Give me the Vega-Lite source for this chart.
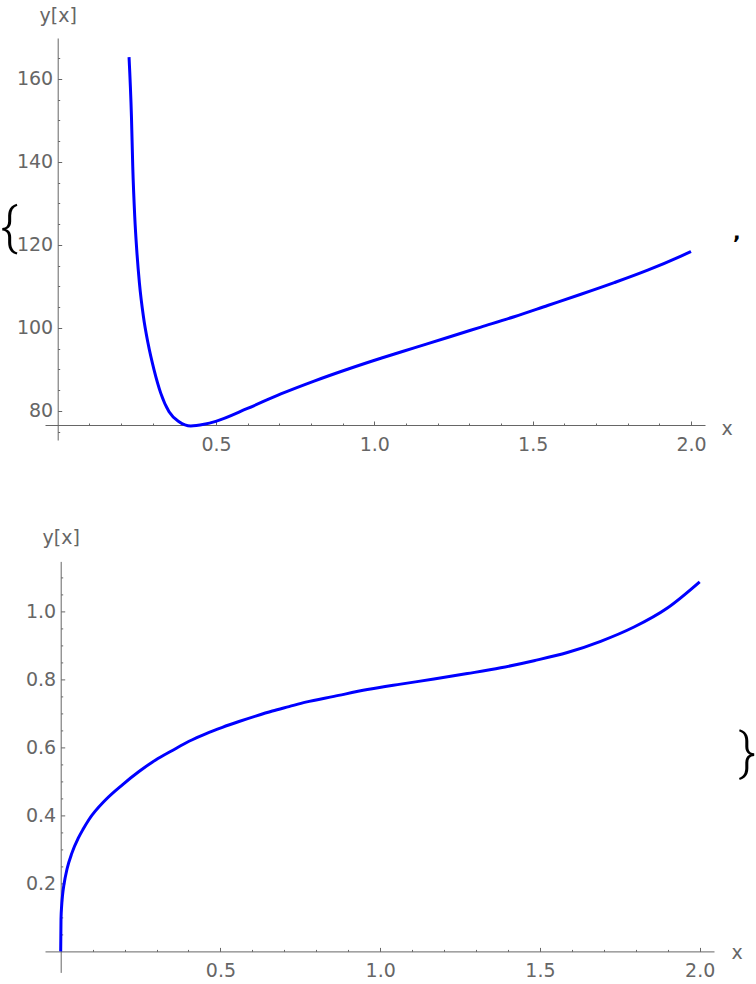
{
  "$schema": "https://vega.github.io/schema/vega-lite/v6.json",
  "padding": {"left": 0, "top": 6, "right": 0, "bottom": 5},
  "background": "white",
  "config": {"view": {"stroke": null}, "font": "DejaVu Sans"},
  "bounds": "flush",
  "spacing": 121.4,
  "vconcat": [
    {
      "width": 660,
      "height": 402,
      "data": {"values": [
        {"x": 0.2253, "y": 165.2}, {"x": 0.2329, "y": 150.9}, {"x": 0.2370, "y": 138.9}, {"x": 0.2433, "y": 126.8},
        {"x": 0.2496, "y": 118.8}, {"x": 0.2581, "y": 110.8}, {"x": 0.2708, "y": 102.7}, {"x": 0.2853, "y": 96.3},
        {"x": 0.3043, "y": 89.9}, {"x": 0.3254, "y": 84.3}, {"x": 0.3517, "y": 79.8}, {"x": 0.3833, "y": 77.4},
        {"x": 0.4202, "y": 76.4}, {"x": 0.4622, "y": 76.8}, {"x": 0.4992, "y": 77.5}, {"x": 0.5994, "y": 80.6},
        {"x": 0.7046, "y": 84.1}, {"x": 0.8098, "y": 87.2}, {"x": 0.9153, "y": 90.05}, {"x": 1.0205, "y": 92.7},
        {"x": 1.1258, "y": 95.2}, {"x": 1.2313, "y": 97.7}, {"x": 1.3365, "y": 100.2}, {"x": 1.4417, "y": 102.7},
        {"x": 1.5472, "y": 105.4}, {"x": 1.6524, "y": 108.1}, {"x": 1.7577, "y": 110.9}, {"x": 1.8632, "y": 113.9},
        {"x": 1.9684, "y": 117.3}, {"x": 2.0, "y": 118.4}
      ]},
      "layer": [
        {
          "mark": {"type": "line", "color": "#0000ff", "strokeWidth": 3, "interpolate": "monotone"},
          "encoding": {
            "x": {"field": "x", "type": "quantitative",
              "scale": {"domain": [-0.0401, 2.0442], "nice": false, "zero": false},
              "axis": {"orient": "bottom", "values": [0.5, 1, 1.5, 2], "format": ".1f", "offset": -15, "grid": false,
                "domainColor": "#666666", "tickColor": "#666666", "tickSize": -4, "labelColor": "#666666",
                "labelFontSize": 19, "labelPadding": 14, "labelFlush": false, "labelOverlap": false,
                "title": "x", "titleX": 676, "titleY": 3, "titleAlign": "left", "titleBaseline": "middle",
                "titleFontWeight": "normal", "titleFontSize": 19, "titleColor": "#666666"}},
            "y": {"field": "y", "type": "quantitative",
              "scale": {"domain": [73.01, 169.81], "nice": false, "zero": false},
              "axis": {"orient": "left", "values": [80, 100, 120, 140, 160], "offset": -12.7, "grid": false,
                "domainColor": "#666666", "tickColor": "#666666", "tickSize": -4, "labelColor": "#666666",
                "labelFontSize": 19, "labelPadding": 9, "labelFlush": false, "labelOverlap": false,
                "title": "y[x]", "titleAngle": 0, "titleX": 0, "titleY": -23, "titleAlign": "center",
                "titleBaseline": "middle", "titleFontWeight": "normal", "titleFontSize": 19, "titleColor": "#666666"}}
          }
        },
        {
          "mark": {"type": "line", "opacity": 0},
          "encoding": {
            "x": {"field": "x", "type": "quantitative",
              "axis": {"orient": "bottom", "values": [0.1, 0.2, 0.3, 0.4, 0.6, 0.7, 0.8, 0.9, 1.1, 1.2, 1.3, 1.4, 1.6, 1.7, 1.8, 1.9],
                "offset": -15, "grid": false, "domain": false, "labels": false, "tickSize": -2,
                "tickColor": "#666666", "title": null}},
            "y": {"field": "y", "type": "quantitative",
              "axis": {"orient": "left", "values": [75, 85, 90, 95, 105, 110, 115, 125, 130, 135, 145, 150, 155, 165],
                "offset": -12.7, "grid": false, "domain": false, "labels": false, "tickSize": -2,
                "tickColor": "#666666", "title": null}}
          }
        },
        {
          "data": {"values": [{"t": "{", "x": -0.1537, "y": 124.0}]},
          "mark": {"type": "text", "font": "Roboto", "fontWeight": 300, "fontSize": 52, "color": "black", "align": "center", "baseline": "middle"},
          "encoding": {
            "x": {"field": "x", "type": "quantitative", "axis": null},
            "y": {"field": "y", "type": "quantitative", "axis": null},
            "text": {"field": "t"}
          }
        },
        {
          "data": {"values": [{"t": ",", "x": 2.145, "y": 121.4}]},
          "mark": {"type": "text", "fontSize": 20, "fontWeight": "bold", "color": "black", "align": "center", "baseline": "alphabetic"},
          "encoding": {
            "x": {"field": "x", "type": "quantitative", "axis": null},
            "y": {"field": "y", "type": "quantitative", "axis": null},
            "text": {"field": "t"}
          }
        }
      ],
      "resolve": {"axis": {"x": "independent", "y": "independent"}}
    },
    {
      "width": 669,
      "height": 411,
      "data": {"values": [
        {"x": 0, "y": 0}, {"x": 0.001, "y": 0.095}, {"x": 0.003, "y": 0.134}, {"x": 0.006, "y": 0.167},
        {"x": 0.01, "y": 0.195}, {"x": 0.02, "y": 0.243}, {"x": 0.035, "y": 0.289}, {"x": 0.055, "y": 0.333},
        {"x": 0.07, "y": 0.359}, {"x": 0.0886, "y": 0.388}, {"x": 0.1408, "y": 0.446}, {"x": 0.1931, "y": 0.49},
        {"x": 0.2451, "y": 0.529},
        {"x": 0.2973, "y": 0.563}, {"x": 0.3496, "y": 0.591}, {"x": 0.4016, "y": 0.618}, {"x": 0.4538, "y": 0.64},
        {"x": 0.5061, "y": 0.659}, {"x": 0.5581, "y": 0.676}, {"x": 0.6103, "y": 0.692}, {"x": 0.6626, "y": 0.707},
        {"x": 0.7146, "y": 0.72}, {"x": 0.7668, "y": 0.733}, {"x": 0.8554, "y": 0.75}, {"x": 0.9599, "y": 0.77},
        {"x": 1.0642, "y": 0.786}, {"x": 1.1684, "y": 0.801}, {"x": 1.2729, "y": 0.817}, {"x": 1.3772, "y": 0.834},
        {"x": 1.4814, "y": 0.855}, {"x": 1.5859, "y": 0.879}, {"x": 1.6901, "y": 0.912}, {"x": 1.7944, "y": 0.954},
        {"x": 1.8989, "y": 1.01}, {"x": 2.0, "y": 1.087}
      ]},
      "layer": [
        {
          "mark": {"type": "line", "color": "#0000ff", "strokeWidth": 3, "interpolate": "monotone"},
          "encoding": {
            "x": {"field": "x", "type": "quantitative",
              "scale": {"domain": [-0.0491, 2.0448], "nice": false, "zero": false},
              "axis": {"orient": "bottom", "values": [0.5, 1, 1.5, 2], "format": ".1f", "offset": -21, "grid": false,
                "domainColor": "#666666", "tickColor": "#666666", "tickSize": -4, "labelColor": "#666666",
                "labelFontSize": 19, "labelPadding": 14, "labelFlush": false, "labelOverlap": false,
                "title": "x", "titleX": 686, "titleY": 1, "titleAlign": "left", "titleBaseline": "middle",
                "titleFontWeight": "normal", "titleFontSize": 19, "titleColor": "#666666"}},
            "y": {"field": "y", "type": "quantitative",
              "scale": {"domain": [-0.0618, 1.147], "nice": false, "zero": false},
              "axis": {"orient": "left", "values": [0.2, 0.4, 0.6, 0.8, 1.0], "format": ".1f", "offset": -15.7, "grid": false,
                "domainColor": "#666666", "tickColor": "#666666", "tickSize": -4, "labelColor": "#666666",
                "labelFontSize": 19, "labelPadding": 9, "labelFlush": false, "labelOverlap": false,
                "title": "y[x]", "titleAngle": 0, "titleX": 0, "titleY": -23.5, "titleAlign": "center",
                "titleBaseline": "middle", "titleFontWeight": "normal", "titleFontSize": 19, "titleColor": "#666666"}}
          }
        },
        {
          "mark": {"type": "line", "opacity": 0},
          "encoding": {
            "x": {"field": "x", "type": "quantitative",
              "axis": {"orient": "bottom", "values": [0.1, 0.2, 0.3, 0.4, 0.6, 0.7, 0.8, 0.9, 1.1, 1.2, 1.3, 1.4, 1.6, 1.7, 1.8, 1.9],
                "offset": -21, "grid": false, "domain": false, "labels": false, "tickSize": -2,
                "tickColor": "#666666", "title": null}},
            "y": {"field": "y", "type": "quantitative",
              "axis": {"orient": "left", "values": [0.05, 0.1, 0.15, 0.25, 0.3, 0.35, 0.45, 0.5, 0.55, 0.65, 0.7, 0.75, 0.85, 0.9, 0.95, 1.05, 1.1],
                "offset": -15.7, "grid": false, "domain": false, "labels": false, "tickSize": -2,
                "tickColor": "#666666", "title": null}}
          }
        },
        {
          "data": {"values": [{"t": "}", "x": 2.149, "y": 0.582}]},
          "mark": {"type": "text", "font": "Roboto", "fontWeight": 300, "fontSize": 52, "color": "black", "align": "center", "baseline": "middle"},
          "encoding": {
            "x": {"field": "x", "type": "quantitative", "axis": null},
            "y": {"field": "y", "type": "quantitative", "axis": null},
            "text": {"field": "t"}
          }
        }
      ],
      "resolve": {"axis": {"x": "independent", "y": "independent"}}
    }
  ]
}
